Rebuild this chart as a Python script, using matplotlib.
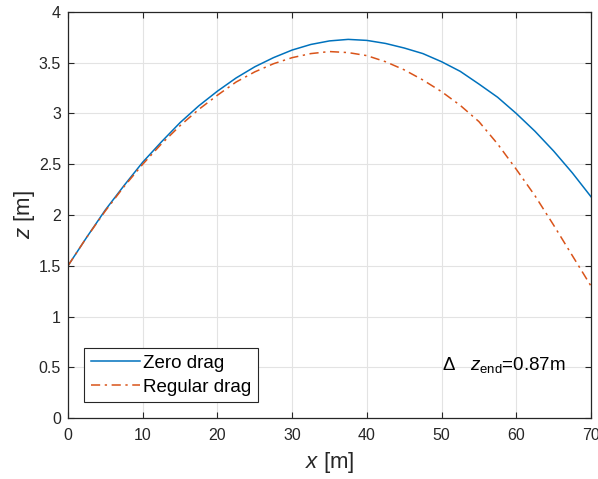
import numpy as np
import matplotlib.pyplot as plt
from matplotlib.ticker import FormatStrFormatter

plt.rcParams['font.family'] = ['Liberation Sans', 'DejaVu Sans']
plt.rcParams['mathtext.fontset'] = 'custom'
plt.rcParams['mathtext.rm'] = 'Liberation Sans'
plt.rcParams['mathtext.it'] = 'Liberation Sans:italic'

# trajectory samples
x_vals = [0, 2.5, 5, 7.5, 10, 12.5, 15, 17.5, 20, 22.5, 25, 27.5, 30, 32.5, 35, 37.5,
          40, 42.5, 45, 47.5, 50, 52.5, 55, 57.5, 60, 62.5, 65, 67.5, 70]
z_zero = [1.50, 1.78, 2.05, 2.29, 2.52, 2.72, 2.91, 3.075, 3.22, 3.35, 3.46, 3.55,
          3.625, 3.68, 3.715, 3.73, 3.72, 3.69, 3.645, 3.59, 3.51, 3.415, 3.29, 3.16,
          3.00, 2.825, 2.63, 2.415, 2.18]
z_drag = [1.50, 1.78, 2.04, 2.28, 2.50, 2.70, 2.88, 3.04, 3.18, 3.31, 3.41, 3.49,
          3.55, 3.59, 3.61, 3.60, 3.57, 3.51, 3.43, 3.33, 3.215, 3.08, 2.92, 2.70,
          2.45, 2.19, 1.90, 1.60, 1.30]
labels = ['Zero drag', 'Regular drag']
note = r'$\Delta$   $z_{\mathrm{end}}$=0.87m'

fig = plt.figure(figsize=(5.98, 4.79), dpi=100)
ax = fig.add_axes([0.1137, 0.1273, 0.8746, 0.8477])

ax.plot(x_vals, z_zero, color='#0072BD', lw=1.1, label=labels[0])
ax.plot(x_vals, z_drag, color='#D95319', lw=1.1, ls=(0, (6, 3, 1.5, 3)), label=labels[1])

ax.set_xlim(0, 70)
ax.set_ylim(0, 4)
ax.set_xticks(np.arange(0, 71, 10))
ax.set_yticks(np.arange(0, 4.01, 0.5))
ax.yaxis.set_major_formatter(FormatStrFormatter('%g'))
ax.grid(True, color='#e3e3e3', lw=0.8)
ax.set_axisbelow(True)
ax.tick_params(direction='in', top=True, right=True, labelsize=11.5,
               colors='#262626', length=4, width=0.8)
ax.tick_params(axis='x', pad=7)
ax.tick_params(axis='y', pad=5)
for s in ax.spines.values():
    s.set_color('#262626')
    s.set_linewidth(0.9)

ax.set_xlabel('$x$ [m]', fontsize=16, color='#262626', labelpad=5)
ax.set_ylabel('$z$ [m]', fontsize=16, color='#262626', labelpad=1)

ax.text(50.1, 0.52, note, fontsize=13.5, va='center', ha='left', color='black')

leg = ax.legend(loc='lower left', bbox_to_anchor=(0.031, 0.039), borderaxespad=0,
                fontsize=13.5, fancybox=False, framealpha=1, edgecolor='#262626',
                handlelength=2.6, handletextpad=0.2, borderpad=0.35, labelspacing=0.35)
leg.get_frame().set_linewidth(0.8)

fig.savefig('out.png', dpi=100)
